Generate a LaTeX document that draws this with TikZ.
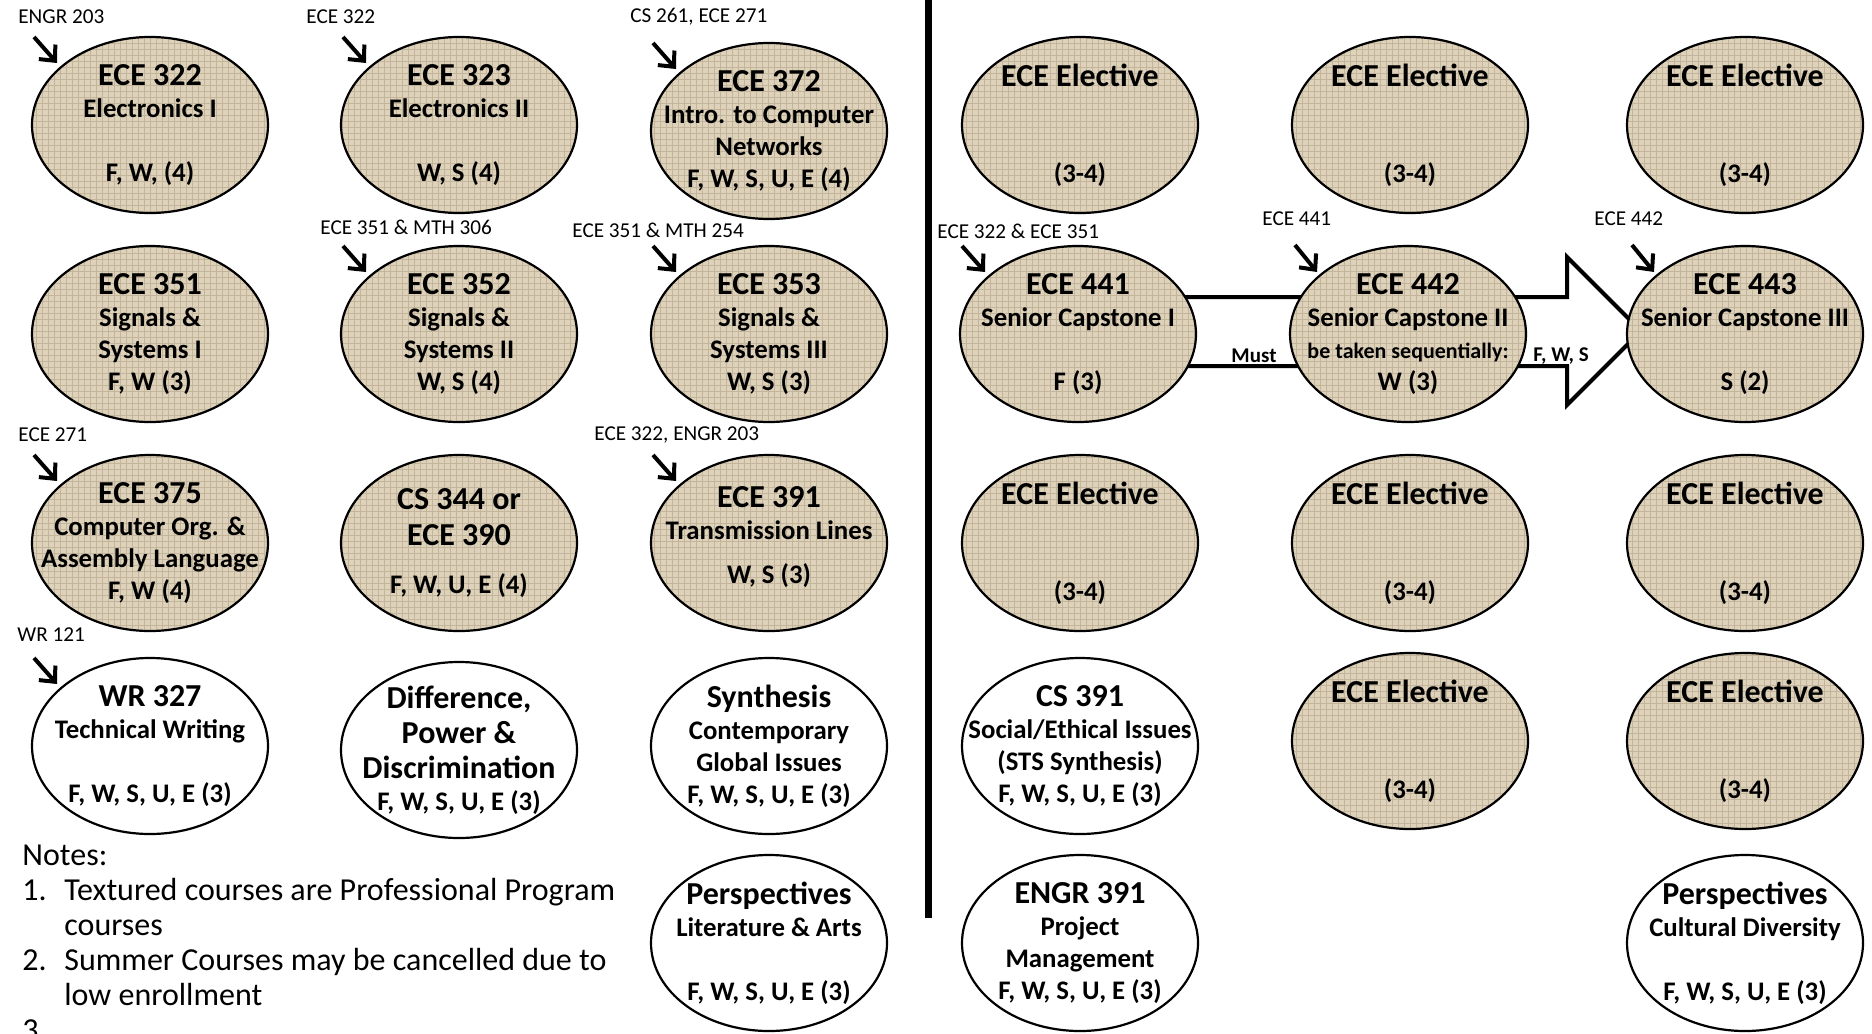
\documentclass[tikz,border=0pt]{standalone}
\usepackage{fontspec}
\setmainfont{Carlito}
\usetikzlibrary{shapes.geometric, arrows.meta, patterns}
\definecolor{burlap}{RGB}{222,210,186}
\definecolor{burlapdark}{RGB}{194,181,156}
\pgfdeclarelayer{background}
\pgfsetlayers{background,main}
\newcommand{\ttl}[1]{{\fontsize{16}{16}\selectfont #1}}
\newcommand{\smallbold}[1]{{\fontsize{11}{16}\selectfont #1}}
\tikzset{
    course/.style = {ellipse, draw, line width=1.1pt, minimum width=118pt, minimum height=88pt, inner xsep=-30pt, inner ysep=-20pt, align=center, font=\bfseries\fontsize{13.4}{16}\selectfont},
    pro-course/.style = {course, preaction={fill=burlap}, pattern=grid, pattern color=burlapdark},
    gen-course/.style = {course, fill=white},
    prereq/.style = {line width=2pt, -{Straight Barb[length=6pt, width=11pt]}},
    prereq-text/.style = {anchor=west, inner sep=0pt, font=\fontsize{10.6}{12}\selectfont},
    seq-text/.style = {inner sep=0pt, font=\bfseries\fontsize{10.5}{12}\selectfont},
    big-arrow/.style = {draw, line width=2pt, fill=white, line join=miter},
    notes/.style = {anchor=north west, inner sep=0pt, font=\fontsize{16}{17.5}\selectfont},
}

\begin{document}
\begin{tikzpicture}[x=0.5pt, y=-0.5pt]
\clip (0,0) rectangle (1872,1033);

% divider between the two years
\draw[line width=3.5pt] (928,-5) -- (928,918);

% first row
\node[pro-course] (e322) at (150,125) {\ttl{ECE 322}\\Electronics I\\ \mbox{}\\F, W, (4)};
\node[pro-course] (e323) at (459,125) {\ttl{ECE 323}\\Electronics II\\ \mbox{}\\W, S (4)};
\node[pro-course] (e372) at (769,131) {\ttl{ECE 372}\\Intro. to Computer\\Networks\\F, W, S, U, E (4)};
\node[pro-course] (elec1) at (1080,125) {\ttl{ECE Elective}\\ \mbox{}\\ \mbox{}\\(3-4)};
\node[pro-course] (elec2) at (1410,125) {\ttl{ECE Elective}\\ \mbox{}\\ \mbox{}\\(3-4)};
\node[pro-course] (elec3) at (1745,125) {\ttl{ECE Elective}\\ \mbox{}\\ \mbox{}\\(3-4)};

% second row
\node[pro-course] (e351) at (150,334) {\ttl{ECE 351}\\Signals \&\\Systems I\\F, W (3)};
\node[pro-course] (e352) at (459,334) {\ttl{ECE 352}\\Signals \&\\Systems II\\W, S (4)};
\node[pro-course] (e353) at (769,334) {\ttl{ECE 353}\\Signals \&\\Systems III\\W, S (3)};
\node[pro-course] (e441) at (1078,334) {\ttl{ECE 441}\\Senior Capstone I\\ \mbox{}\\F (3)};
\node[pro-course] (e442) at (1408,334) {\ttl{ECE 442}\\Senior Capstone II\\\smallbold{be taken sequentially:}\\W (3)};
\node[pro-course] (e443) at (1745,334) {\ttl{ECE 443}\\Senior Capstone III\\ \mbox{}\\S (2)};

% third row
\node[pro-course] (e375) at (150,543) {\ttl{ECE 375}\\Computer Org. \&\\Assembly Language\\F, W (4)};
\node[pro-course] (e344) at (459,543) {\ttl{CS 344 or}\\[2pt]\ttl{ECE 390}\\[8pt]F, W, U, E (4)};
\node[pro-course] (e391) at (769,543) {\ttl{ECE 391}\\Transmission Lines\\[6pt]W, S (3)\\[-8pt]\mbox{}};
\node[pro-course] (elec4) at (1080,543) {\ttl{ECE Elective}\\ \mbox{}\\ \mbox{}\\(3-4)};
\node[pro-course] (elec5) at (1410,543) {\ttl{ECE Elective}\\ \mbox{}\\ \mbox{}\\(3-4)};
\node[pro-course] (elec6) at (1745,543) {\ttl{ECE Elective}\\ \mbox{}\\ \mbox{}\\(3-4)};
\node[pro-course] (elec7) at (1410,741) {\ttl{ECE Elective}\\ \mbox{}\\ \mbox{}\\(3-4)};
\node[pro-course] (elec8) at (1745,741) {\ttl{ECE Elective}\\ \mbox{}\\ \mbox{}\\(3-4)};

% general education
\node[gen-course] (wr327) at (150,746) {\ttl{WR 327}\\Technical Writing\\ \mbox{}\\F, W, S, U, E (3)};
\node[gen-course] (dpd) at (459,750) {\ttl{Difference,}\\[1.5pt]\ttl{Power \&}\\[1.5pt]\ttl{Discrimination}\\F, W, S, U, E (3)};
\node[gen-course] (synth) at (769,746) {\ttl{Synthesis}\\Contemporary\\Global Issues\\F, W, S, U, E (3)};
\node[gen-course] (cs391) at (1080,746) {\ttl{CS 391}\\Social/Ethical Issues\\(STS Synthesis)\\F, W, S, U, E (3)};
\node[gen-course] (persLA) at (769,943) {\ttl{Perspectives}\\Literature \& Arts\\ \mbox{}\\F, W, S, U, E (3)};
\node[gen-course] (engr391) at (1080,943) {\ttl{ENGR 391}\\Project\\Management\\F, W, S, U, E (3)};
\node[gen-course] (persCD) at (1745,943) {\ttl{Perspectives}\\Cultural Diversity\\ \mbox{}\\F, W, S, U, E (3)};

% capstone sequence arrow
\begin{pgfonlayer}{background}
\draw[big-arrow] ([shift={(60,-37)}]e441.center) -- ([shift={(-178,-37)}]e443.center)
    -- ([shift={(-178,-77)}]e443.center) -- ([shift={(-104,-3)}]e443.center)
    -- ([shift={(-178,71)}]e443.center) -- ([shift={(-178,32)}]e443.center)
    -- ([shift={(60,32)}]e441.center) -- cycle;
\end{pgfonlayer}
\node[seq-text] (must) at (1254,356) {Must};
\node[seq-text] (terms) at (1561,356) {F, W, S};

% prerequisites
\node[prereq-text] (pre322) at (18,17) {ENGR 203};
\node[prereq-text] (pre323) at (306,17) {ECE 322};
\node[prereq-text] (pre372) at (630,17) {CS 261, ECE 271};
\node[prereq-text] (pre352) at (320,227) {ECE 351 \& MTH 306};
\node[prereq-text] (pre353) at (572,230) {ECE 351 \& MTH 254};
\node[prereq-text] (pre441) at (937,231) {ECE 322 \& ECE 351};
\node[prereq-text] (pre442) at (1262,219) {ECE 441};
\node[prereq-text] (pre443) at (1594,219) {ECE 442};
\node[prereq-text] (pre375) at (18,435) {ECE 271};
\node[prereq-text] (pre391) at (594,435) {ECE 322, ENGR 203};
\node[prereq-text] (pre327) at (17,635) {WR 121};

\draw[prereq] ([shift={(-116,-88)}]e322.center) -- ([shift={(-93,-62)}]e322.center);
\draw[prereq] ([shift={(-116,-88)}]e323.center) -- ([shift={(-93,-62)}]e323.center);
\draw[prereq] ([shift={(-116,-88)}]e372.center) -- ([shift={(-93,-62)}]e372.center);
\draw[prereq] ([shift={(-116,-88)}]e352.center) -- ([shift={(-93,-62)}]e352.center);
\draw[prereq] ([shift={(-116,-88)}]e353.center) -- ([shift={(-93,-62)}]e353.center);
\draw[prereq] ([shift={(-116,-88)}]e441.center) -- ([shift={(-93,-62)}]e441.center);
\draw[prereq] ([shift={(-113,-89)}]e442.center) -- ([shift={(-91,-62)}]e442.center);
\draw[prereq] ([shift={(-113,-89)}]e443.center) -- ([shift={(-91,-62)}]e443.center);
\draw[prereq] ([shift={(-116,-88)}]e375.center) -- ([shift={(-93,-62)}]e375.center);
\draw[prereq] ([shift={(-116,-88)}]e391.center) -- ([shift={(-93,-62)}]e391.center);
\draw[prereq] ([shift={(-116,-88)}]wr327.center) -- ([shift={(-93,-62)}]wr327.center);

% notes
\node[notes] (notes) at (22,841) {\begin{tabular}{@{}p{21pt}@{}l@{}}
\multicolumn{2}{@{}l}{Notes:}\\
1. & Textured courses are Professional Program\\
 & courses\\
2. & Summer Courses may be cancelled due to\\
 & low enrollment\\
3. & \\
\end{tabular}};
\end{tikzpicture}
\end{document}
